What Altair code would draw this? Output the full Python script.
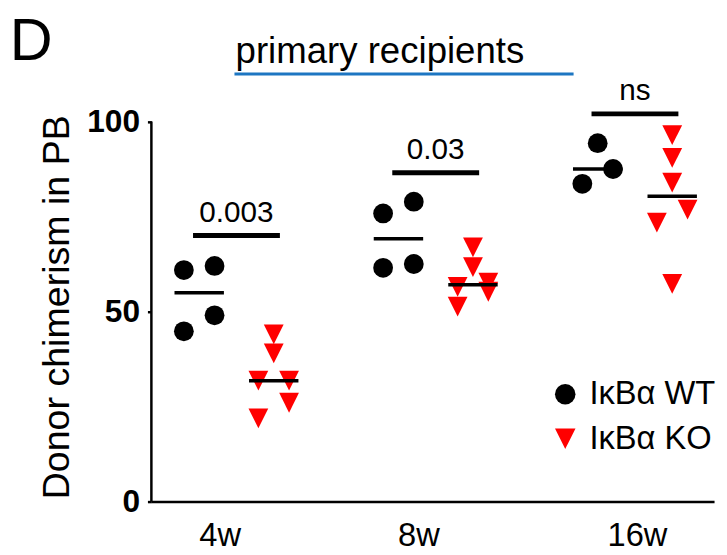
import altair as alt
import pandas as pd

# ---------------- data ----------------
timepoints = ["4w", "8w", "16w"]
genotypes = ["IκBα WT", "IκBα KO"]

wt_4w = [60.9, 62.0, 49.0, 44.8]
ko_4w = [44.0, 39.0, 31.8, 31.8, 26.0, 21.9]
wt_8w = [75.8, 78.9, 61.5, 62.5]
ko_8w = [66.9, 61.7, 56.5, 57.6, 55.2, 51.3]
wt_16w = [94.3, 87.5, 83.6]
ko_16w = [96.4, 90.4, 83.9, 76.8, 73.4, 57.3]

# side of the scatter column each point sits on (-1 left, 0 centre, 1 right)
wt_4w_side = [-1, 1, 1, -1]
ko_4w_side = [0, 0, -1, 1, 1, -1]
wt_8w_side = [-1, 1, -1, 1]
ko_8w_side = [0, 0, -1, 1, 1, -1]
wt_16w_side = [0, 1, -1]
ko_16w_side = [0, 0, 0, 1, -1, 0]

p_labels = ["0.003", "0.03", "ns"]
p_bar_level = [70.0, 86.5, 102.0]

panel_letter = "D"
cohort_label = "primary recipients"
y_title = "Donor chimerism in PB"
y_ticks = [0, 50, 100]

# ---------------- layout constants ----------------
FONT = "Liberation Sans"
X_MIN, X_MAX = 0.573, 3.397
Y_MAX = 128
W, H = 569, 492
GROUP_SHIFT = 0.187
JITTER = 0.077
MEDIAN_HALF = 0.124
BAR_HALF = 0.218
X_LABEL_NUDGE = [-0.084, -0.087, 0.01]

series = {
    ("4w", genotypes[0]): (wt_4w, wt_4w_side),
    ("4w", genotypes[1]): (ko_4w, ko_4w_side),
    ("8w", genotypes[0]): (wt_8w, wt_8w_side),
    ("8w", genotypes[1]): (ko_8w, ko_8w_side),
    ("16w", genotypes[0]): (wt_16w, wt_16w_side),
    ("16w", genotypes[1]): (ko_16w, ko_16w_side),
}
rows = []
for (tp, gt), (vals, sides) in series.items():
    t = timepoints.index(tp) + 1
    col = t + (-GROUP_SHIFT if gt == genotypes[0] else GROUP_SHIFT)
    for v, s in zip(vals, sides):
        rows.append({"time": tp, "genotype": gt, "value": v,
                     "col": col, "x": col + s * JITTER})
points = pd.DataFrame(rows)

sig = pd.DataFrame({
    "t": [1, 2, 3],
    "label": p_labels,
    "level": p_bar_level,
})
sig["x1"] = sig["t"] - BAR_HALF
sig["x2"] = sig["t"] + BAR_HALF

xs = alt.Scale(domain=[X_MIN, X_MAX], nice=False, zero=False)
ys = alt.Scale(domain=[0, Y_MAX], nice=False, zero=False)

label_pos = [i + 1 + n for i, n in enumerate(X_LABEL_NUDGE)]
label_expr = ("datum.value < 1.5 ? '4w' : datum.value < 2.5 ? '8w' : '16w'")

x_axis = alt.Axis(values=label_pos, labelExpr=label_expr, title=None,
                  ticks=False, grid=False, domain=True, domainColor="black",
                  domainWidth=2.5, labelFontSize=33, labelFont=FONT,
                  labelColor="black", labelPadding=18, labelFlush=False)
y_axis = alt.Axis(values=y_ticks, title=y_title, grid=False, domain=False,
                  tickSize=4, tickWidth=2.5, tickColor="black",
                  labelFontSize=32, labelFontWeight="bold", labelFont=FONT,
                  labelColor="black", labelPadding=8,
                  titleFontSize=38, titleFontWeight="normal", titleFont=FONT,
                  titleColor="black", titleAngle=270, titleX=-84, titleY=295,
                  titleAlign="center", titleBaseline="alphabetic")


def X(field):
    return alt.X(field, scale=xs, axis=x_axis)


def Y(field):
    return alt.Y(field, scale=ys, axis=y_axis)


pts = alt.Chart(points).mark_point(filled=True, opacity=1, strokeWidth=0).encode(
    x=X("x:Q"),
    y=Y("value:Q"),
    color=alt.Color("genotype:N",
                    scale=alt.Scale(domain=genotypes, range=["#000000", "#ff0000"]),
                    legend=alt.Legend(title=None, orient="none", legendX=402,
                                      legendY=367, labelFontSize=33, labelFont=FONT,
                                      labelColor="black", symbolSize=430,
                                      rowPadding=11, labelOffset=8,
                                      symbolStrokeWidth=0, symbolOpacity=1)),
    shape=alt.Shape("genotype:N",
                    scale=alt.Scale(domain=genotypes,
                                    range=["circle", "M-1,-1L1,-1L0,1Z"])),
    size=alt.value(400),
)

medians = alt.Chart(points).transform_aggregate(
    med="median(value)", groupby=["col", "genotype"]
).transform_calculate(
    a=f"datum.col - {MEDIAN_HALF}", b=f"datum.col + {MEDIAN_HALF}"
).mark_rule(color="black", strokeWidth=3.5).encode(
    x=X("a:Q"), x2="b:Q", y=Y("med:Q"),
)

bars = alt.Chart(sig).mark_rule(color="black", strokeWidth=5).encode(
    x=X("x1:Q"), x2="x2:Q", y=Y("level:Q"),
)
bar_text = alt.Chart(sig).mark_text(fontSize=30, font=FONT, color="black",
                                    baseline="alphabetic", dy=-14).encode(
    x=X("t:Q"), y=Y("level:Q"), text="label:N",
)

y_line = alt.Chart(pd.DataFrame({"x": [X_MIN], "y0": [0], "y1": [100]})).mark_rule(
    color="black", strokeWidth=2.5).encode(
    x=X("x:Q"), y=Y("y0:Q"), y2="y1:Q",
)

cohort = pd.DataFrame({"label": [cohort_label], "x": [1.72], "y": [115.4],
                       "lx1": [0.99], "lx2": [2.692], "ly": [112.5]})
cohort_text = alt.Chart(cohort).mark_text(fontSize=37, font=FONT, color="black",
                                          baseline="alphabetic").encode(
    x=X("x:Q"), y=Y("y:Q"), text="label:N",
)
cohort_line = alt.Chart(cohort).mark_rule(color="#1d76c2", strokeWidth=3).encode(
    x=X("lx1:Q"), x2="lx2:Q", y=Y("ly:Q"),
)

letter = alt.Chart(pd.DataFrame({"label": [panel_letter], "x": [-0.138], "y": [116.1]})
                   ).mark_text(fontSize=60, font=FONT, color="black",
                               align="left", baseline="alphabetic").encode(
    x=X("x:Q"), y=Y("y:Q"), text="label:N",
)

chart = alt.layer(
    pts, medians, bars, bar_text, y_line, cohort_text, cohort_line, letter
).properties(
    width=W, height=H,
    autosize=alt.AutoSizeParams(type="none"),
    padding={"left": 145, "top": 4, "right": 5, "bottom": 60},
).configure(font=FONT).configure_view(stroke=None)

chart.save("out.html", embed_options={"renderer": "svg", "actions": False})
